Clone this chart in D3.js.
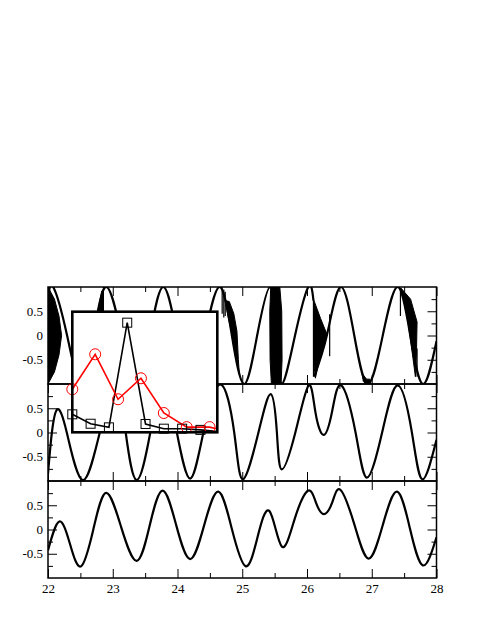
<!DOCTYPE html>
<meta charset="utf-8">
<style>
body { margin: 0; background: #fff; }
.frame { fill: none; stroke: #000; stroke-width: 1.5; }
.curve { fill: none; stroke: #000; stroke-width: 2.2; stroke-linejoin: round; }
.blob { fill: #000; stroke: #000; stroke-width: 1; }
.spike { stroke: #000; stroke-width: 1.2; }
.tick line { stroke: #000; stroke-width: 1; }
</style>
<body>
<script src="https://d3js.org/d3.v7.min.js"></script>
<script>

var W = 485, H = 627;
var plotLeft = 48, plotRight = 436.5, plotTop = 287, panelH = 97;

// tick values
var xTickMajor = [22, 23, 24, 25, 26, 27, 28];
var xTickMinor = [22.5, 23.5, 24.5, 25.5, 26.5, 27.5];
var yTickMajor = [-0.5, 0, 0.5];
var yTickMinor = [-0.75, -0.25, 0.25, 0.75];

// top panel: main trace (two pieces), dense filled regions and spikes
var topLineA = [[22.00, 0.75], [22.08, 1.0], [22.295, 0.0], [22.51, -1.0], [22.705, 0.0], [22.90, 1.0],
  [23.135, 0.0], [23.37, -1.0], [23.575, 0.0], [23.78, 1.0], [23.99, 0.0], [24.20, -1.0], [24.425, 0.0],
  [24.65, 1.0], [24.84, 0.0], [25.03, -1.0], [25.23, 0.0], [25.43, 1.0], [25.52, 0.0], [25.61, -1.0],
  [25.815, 0.0], [26.02, 1.0], [26.10, 0.72]];
var topLineB = [[26.11, -0.85], [26.31, 0.02], [26.52, 1.0], [26.73, 0.0], [26.94, -1.0], [27.17, 0.0],
  [27.40, 1.0], [27.595, 0.0], [27.79, -1.0], [28.00, -0.12]];
var topFills = [
  [[22.0, 1.0], [22.10, 0.75], [22.17, 0.4], [22.21, 0.0], [22.17, -0.4], [22.10, -0.75], [22.0, -1.0]],
  [[22.77, 0.5], [22.855, 0.5], [22.855, 0.95], [22.83, 0.92]],
  [[24.737, 0.72], [24.78, 0.4], [24.83, 0.09], [24.89, -0.4], [24.955, -0.8], [24.94, -0.5], [24.918, 0.09], [24.87, 0.45], [24.80, 0.7]],
  [[25.44, 1.0], [25.58, 1.0], [25.61, 0.5], [25.615, -0.5], [25.60, -1.0], [25.45, -1.0], [25.43, -0.5], [25.425, 0.5]],
  [[26.10, 0.75], [26.21, 0.35], [26.31, 0.02], [26.2, -0.45], [26.13, -0.88], [26.10, -0.5]],
  [[26.85, -0.78], [26.87, -0.95], [26.91, -1.0], [26.99, -1.0], [26.97, -0.9], [26.92, -0.9]],
  [[27.44, 0.97], [27.50, 0.75], [27.56, 0.28], [27.63, -0.4], [27.674, -0.85], [27.69, -0.4], [27.70, 0.28], [27.60, 0.75], [27.45, 0.98]]
];
var topSpikes = [[22.855, 1.0, 0.5], [24.69, 1.0, 0.45], [24.715, 0.95, 0.37], [24.737, 0.9, 0.4],
  [26.10, 0.72, -0.85], [26.35, 0.44, -0.43], [27.443, 0.98, 0.40], [27.70, -0.27, -0.85]];

// middle panel trace
var midLine = [[22.00, -0.85], [22.06, 0.0], [22.145, 0.48], [22.29, 0.0], [22.535, -0.98], [22.80, 0.0],
  [23.05, 0.9], [23.20, 0.0], [23.37, -0.98], [23.58, 0.0], [23.78, 0.98], [23.99, 0.0], [24.195, -0.95],
  [24.40, 0.0], [24.66, 0.99], [24.876, 0.0], [25.01, -0.965], [25.25, 0.0], [25.44, 0.79], [25.535, 0.0],
  [25.61, -0.76], [25.82, 0.0], [26.025, 0.97], [26.13, 0.42], [26.26, -0.05], [26.39, 0.45], [26.53, 0.97],
  [26.75, 0.0], [26.925, -0.93], [27.16, 0.0], [27.40, 0.97], [27.62, 0.0], [27.78, -0.965], [28.0, -0.15]];

// bottom panel trace
var lowLine = [[22.00, -0.43], [22.175, 0.165], [22.34, -0.30], [22.51, -0.76], [22.70, 0.0], [22.897, 0.757],
  [23.13, 0.05], [23.37, -0.645], [23.57, 0.08], [23.77, 0.80], [23.98, 0.09], [24.195, -0.61], [24.41, 0.08],
  [24.63, 0.78], [24.84, 0.01], [25.05, -0.755], [25.23, -0.19], [25.42, 0.38], [25.61, -0.35], [25.81, 0.22],
  [26.015, 0.80], [26.14, 0.55], [26.26, 0.317], [26.39, 0.56], [26.515, 0.82], [26.73, 0.11], [26.95, -0.60],
  [27.17, 0.09], [27.39, 0.78], [27.59, 0.02], [27.79, -0.74], [28.00, -0.16]];

// inset series
var insetSquareX = [0, 1, 2, 3, 4, 5, 6, 7, 8];
var insetSquareY = [0.149, 0.071, 0.041, 0.909, 0.069, 0.03, 0.03, 0.02, 0.005];
var insetCircleX = [0, 1.25, 2.5, 3.75, 5, 6.25, 7.5, 8.75];
var insetCircleY = [0.357, 0.647, 0.274, 0.448, 0.160, 0.043, 0.043, 0.0];

var svg = d3.select("body").append("svg")
    .attr("width", W)
    .attr("height", H);

var x = d3.scaleLinear().domain([22, 28]).range([plotLeft, plotRight]);

function fmt(d) { return d === 0 ? "0" : String(d); }

function makePanel(i, last) {
  var top = plotTop + i * panelH;
  var y = d3.scaleLinear().domain([-1, 1]).range([top + panelH, top]);

  svg.append("clipPath").attr("id", "clip" + i)
    .append("rect")
      .attr("x", plotLeft).attr("y", top)
      .attr("width", plotRight - plotLeft).attr("height", panelH);

  var g = svg.append("g");

  // ticks, all pointing inward
  var axes = [
    [d3.axisLeft(y).tickValues(yTickMinor).tickSize(-5).tickFormat(""), plotLeft, 0],
    [d3.axisLeft(y).tickValues(yTickMajor).tickSize(-9).tickPadding(5).tickFormat(fmt), plotLeft, 0],
    [d3.axisRight(y).tickValues(yTickMinor).tickSize(-5).tickFormat(""), plotRight, 0],
    [d3.axisRight(y).tickValues(yTickMajor).tickSize(-9).tickFormat(""), plotRight, 0],
    [d3.axisTop(x).tickValues(xTickMinor).tickSize(-5).tickFormat(""), 0, top],
    [d3.axisTop(x).tickValues(xTickMajor).tickSize(-9).tickFormat(""), 0, top],
    [d3.axisBottom(x).tickValues(xTickMinor).tickSize(-5).tickFormat(""), 0, top + panelH],
    [d3.axisBottom(x).tickValues(xTickMajor).tickSize(-9).tickPadding(6).tickFormat(last ? fmt : ""), 0, top + panelH]
  ];
  axes.forEach(function(a) {
    var ax = g.append("g")
        .attr("transform", "translate(" + a[1] + "," + a[2] + ")")
        .call(a[0]);
    ax.select(".domain").remove();
    ax.attr("font-family", "'Liberation Serif', 'Times New Roman', serif")
      .attr("font-size", 13);
    ax.selectAll("text").attr("fill", "#000");
  });

  var plot = g.append("g").attr("clip-path", "url(#clip" + i + ")");

  g.append("rect")
      .attr("class", "frame")
      .attr("x", plotLeft).attr("y", top)
      .attr("width", plotRight - plotLeft).attr("height", panelH);

  return {plot: plot, y: y};
}

var p1 = makePanel(0, false);
var p2 = makePanel(1, false);
var p3 = makePanel(2, true);

function lineFor(y, curve) {
  return d3.line()
    .x(function(d) { return x(d[0]); })
    .y(function(d) { return y(d[1]); })
    .curve(curve);
}

// top panel
var line1 = lineFor(p1.y, d3.curveNatural);
var poly1 = lineFor(p1.y, d3.curveLinearClosed);
p1.plot.selectAll(".blob").data(topFills).enter().append("path")
    .attr("class", "blob")
    .attr("d", poly1);
p1.plot.selectAll(".spike").data(topSpikes).enter().append("line")
    .attr("class", "spike")
    .attr("x1", function(d) { return x(d[0]); })
    .attr("x2", function(d) { return x(d[0]); })
    .attr("y1", function(d) { return p1.y(d[1]); })
    .attr("y2", function(d) { return p1.y(d[2]); });
p1.plot.selectAll(".curve").data([topLineA, topLineB]).enter().append("path")
    .attr("class", "curve")
    .attr("d", line1);

// middle panel
p2.plot.append("path")
    .datum(midLine)
    .attr("class", "curve")
    .attr("d", lineFor(p2.y, d3.curveNatural));

// bottom panel
p3.plot.append("path")
    .datum(lowLine)
    .attr("class", "curve")
    .attr("d", lineFor(p3.y, d3.curveNatural));

// inset
var ix = d3.scaleLinear().domain([0, 7.92]).range([72.3, 217.3]);
var iy = d3.scaleLinear().domain([0, 1]).range([432.3, 311.7]);

var inset = svg.append("g");
inset.append("rect")
    .attr("x", ix(0)).attr("y", iy(1))
    .attr("width", ix(7.92) - ix(0)).attr("height", iy(0) - iy(1))
    .attr("fill", "#fff");

svg.append("clipPath").attr("id", "clipInset")
  .append("rect")
    .attr("x", ix(0) - 8).attr("y", iy(1))
    .attr("width", ix(7.92) - ix(0) + 8).attr("height", iy(0) - iy(1) + 8);

var ip = inset.append("g").attr("clip-path", "url(#clipInset)");

var squares = insetSquareX.map(function(d, i) { return [d, insetSquareY[i]]; });
var circles = insetCircleX.map(function(d, i) { return [d, insetCircleY[i]]; });

var iline = d3.line()
    .x(function(d) { return ix(d[0]); })
    .y(function(d) { return iy(d[1]); });

ip.append("path").datum(squares)
    .attr("d", iline)
    .attr("fill", "none").attr("stroke", "#000").attr("stroke-width", 1.6);
ip.append("path").datum(circles)
    .attr("d", iline)
    .attr("fill", "none").attr("stroke", "#ff0000").attr("stroke-width", 1.6);

ip.selectAll(".sq").data(squares.filter(function(d) { return d[0] <= 7.92; }))
  .enter().append("rect")
    .attr("class", "sq")
    .attr("x", function(d) { return ix(d[0]) - 4.5; })
    .attr("y", function(d) { return iy(d[1]) - 4.5; })
    .attr("width", 9).attr("height", 9)
    .attr("fill", "none").attr("stroke", "#000").attr("stroke-width", 1);

ip.selectAll(".ci").data(circles.filter(function(d) { return d[0] <= 7.92; }))
  .enter().append("circle")
    .attr("class", "ci")
    .attr("cx", function(d) { return ix(d[0]); })
    .attr("cy", function(d) { return iy(d[1]); })
    .attr("r", 5.5)
    .attr("fill", "none").attr("stroke", "#ff0000").attr("stroke-width", 1);

inset.append("rect")
    .attr("x", ix(0)).attr("y", iy(1))
    .attr("width", ix(7.92) - ix(0)).attr("height", iy(0) - iy(1))
    .attr("fill", "none").attr("stroke", "#000").attr("stroke-width", 2.6);

</script>
